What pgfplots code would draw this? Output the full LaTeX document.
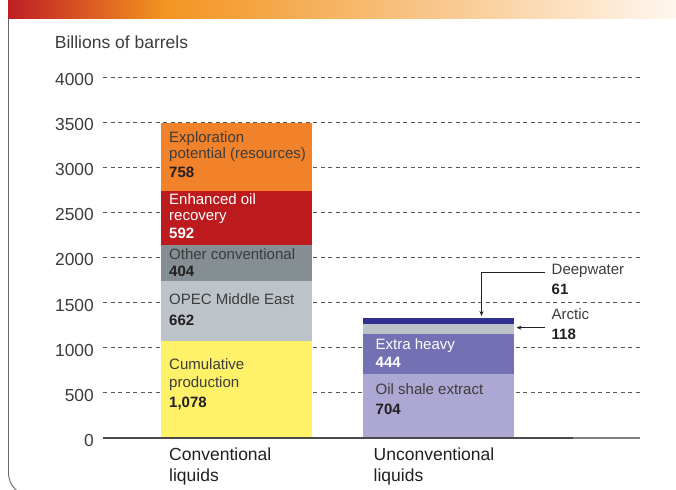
\documentclass[border=0pt]{standalone}
\usepackage{pgfplots}
\pgfplotsset{compat=1.18}
\usepackage{fontspec}
\setmainfont{Liberation Sans}
\usetikzlibrary{arrows.meta}

\definecolor{cumY}{HTML}{FFF168}
\definecolor{opecC}{HTML}{BCC4CA}
\definecolor{otherC}{HTML}{858E93}
\definecolor{eorC}{HTML}{BD1A1E}
\definecolor{explC}{HTML}{F1822A}
\definecolor{shaleC}{HTML}{ADA8D3}
\definecolor{xheavyC}{HTML}{7470B4}
\definecolor{arcticC}{HTML}{BCC4CA}
\definecolor{deepC}{HTML}{2E3190}
\definecolor{txt}{HTML}{3C3C3C}
\definecolor{numtxt}{HTML}{231F20}
\definecolor{gridC}{HTML}{555555}
\definecolor{axisA}{HTML}{4A4A4C}
\definecolor{axisB}{HTML}{808080}
\definecolor{frameC}{HTML}{666666}
\definecolor{hA}{HTML}{BF1E24}
\definecolor{hB}{HTML}{F3941F}
\definecolor{hC}{HTML}{F8C485}
\definecolor{hD}{HTML}{FFF7EE}

\pgfdeclarehorizontalshading{hdr}{100bp}{color(0bp)=(hA); color(25bp)=(hA); color(36.7bp)=(hB); color(55.8bp)=(hC); color(75bp)=(hD); color(100bp)=(hD)}

\newcommand{\lab}{\fontsize{15}{18}\selectfont}
\newcommand{\bigf}{\fontsize{17.5}{20}\selectfont}

\begin{document}
\begin{tikzpicture}[x=1pt,y=1pt]
\useasboundingbox (0,0) rectangle (676,489);
% header band
\shade[shading=hdr] (8,470) rectangle (676,489);
% frame
\draw[frameC, line width=0.9pt, rounded corners=22.9pt] (8.5,470) -- (8.5,-6.9) -- (700,-6.9);

\begin{axis}[
  at={(103pt,51pt)}, anchor=south west,
  scale only axis, width=537pt, height=361pt,
  xmin=-0.661, xmax=2.0, ymin=0, ymax=4000,
  axis line style={draw=none},
  xtick=\empty,
  ytick={0,500,1000,1500,2000,2500,3000,3500,4000},
  major tick length=0pt,
  ymajorgrids,
  grid style={gridC, line width=0.8pt, dash pattern=on 4pt off 3.5pt},
  /pgf/number format/1000 sep={},
  /pgf/number format/assume math mode=true,
  yticklabel style={font=\fontsize{17.4}{20}\selectfont, color=txt, inner sep=0pt, anchor=east, xshift=-9pt, yshift=-2.5pt},
  ybar stacked, bar width=151pt,
  clip=false,
]
% Conventional liquids
\addplot[fill=cumY, draw=none] coordinates {(0,1078) (1,0)};
\addplot[fill=opecC, draw=none] coordinates {(0,662) (1,0)};
\addplot[fill=otherC, draw=none] coordinates {(0,404) (1,0)};
\addplot[fill=eorC, draw=none] coordinates {(0,592) (1,0)};
\addplot[fill=explC, draw=none] coordinates {(0,758) (1,0)};
% Unconventional liquids
\addplot[fill=shaleC, draw=none] coordinates {(0,0) (1,704)};
\addplot[fill=xheavyC, draw=none] coordinates {(0,0) (1,444)};
\addplot[fill=arcticC, draw=none] coordinates {(0,0) (1,118)};
\addplot[fill=deepC, draw=none] coordinates {(0,0) (1,61)};
\end{axis}

% x axis line
\draw[axisA, line width=2pt] (103,51) -- (573,51);
\draw[axisB, line width=2pt] (573,51) -- (640,51);

% y axis title
\node[anchor=base west, inner sep=0pt, color=txt, font=\bigf] at (54.7,489-48.5) {Billions of barrels};

\begin{scope}[every node/.style={anchor=base west, inner sep=0pt, font=\lab}]
% conventional
\node[color=txt] at (169,489-142.5) {Exploration};
\node[color=txt] at (169,489-159) {potential (resources)};
\node[color=numtxt, font=\lab\bfseries] at (169,489-177.5) {758};
\node[color=white] at (169,489-205) {Enhanced oil};
\node[color=white] at (169,489-221) {recovery};
\node[color=white, font=\lab\bfseries] at (169,489-239) {592};
\node[color=txt] at (169,489-260) {Other conventional};
\node[color=numtxt, font=\lab\bfseries] at (169,489-277) {404};
\node[color=txt] at (169,489-304.5) {OPEC Middle East};
\node[color=numtxt, font=\lab\bfseries] at (169,489-325.5) {662};
\node[color=txt] at (169,489-369.3) {Cumulative};
\node[color=txt] at (169,489-387.3) {production};
\node[color=numtxt, font=\lab\bfseries] at (169,489-407.3) {1,078};
% unconventional
\node[color=white] at (375.5,489-350) {Extra heavy};
\node[color=white, font=\lab\bfseries] at (375.5,489-367.5) {444};
\node[color=txt] at (375.5,489-395) {Oil shale extract};
\node[color=numtxt, font=\lab\bfseries] at (375.5,489-415) {704};
% annotations
\node[color=txt] at (551.5,489-274.3) {Deepwater};
\node[color=numtxt, font=\lab\bfseries] at (551.5,489-294.3) {61};
\node[color=txt] at (551.5,489-320) {Arctic};
\node[color=numtxt, font=\lab\bfseries] at (551.5,489-340) {118};
% categories
\node[color=numtxt, font=\bigf] at (169,489-460.7) {Conventional};
\node[color=numtxt, font=\bigf] at (169,489-481) {liquids};
\node[color=numtxt, font=\bigf] at (373.5,489-460.7) {Unconventional};
\node[color=numtxt, font=\bigf] at (373.5,489-481) {liquids};
\end{scope}

% arrows
\draw[numtxt, line width=0.8pt, -{Stealth[length=5pt,width=4pt]}] (545,489-272.7) -- (481.5,489-272.7) -- (481.5,489-316);
\draw[numtxt, line width=0.8pt, -{Stealth[length=5pt,width=4pt]}] (545,489-327.7) -- (516.5,489-327.7);
\end{tikzpicture}
\end{document}
